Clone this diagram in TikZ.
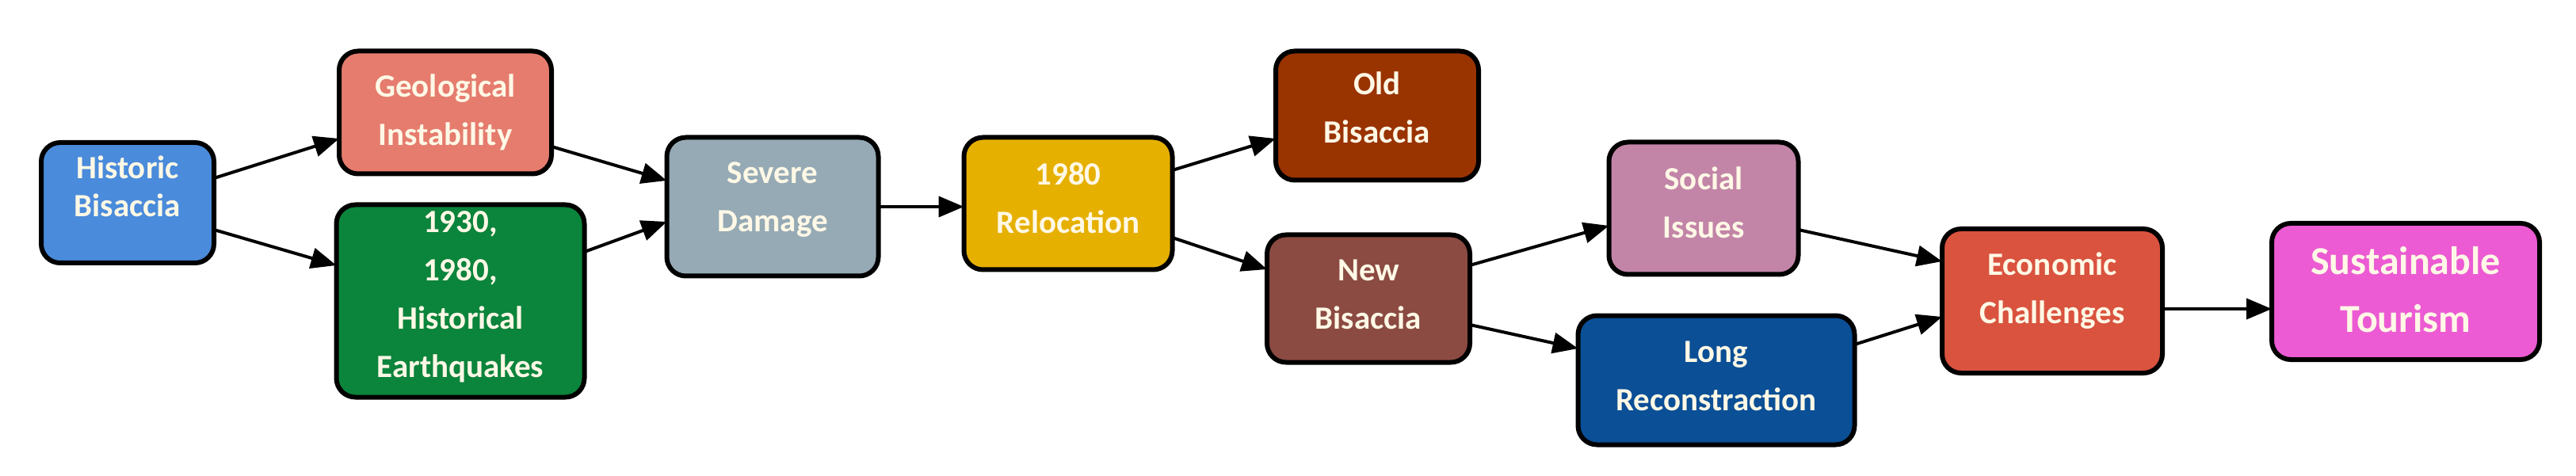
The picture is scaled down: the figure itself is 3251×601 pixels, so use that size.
\documentclass[tikz,border=0pt]{standalone}
\usepackage{fontspec}
\setmainfont{Carlito}
\usetikzlibrary{arrows.meta}
\definecolor{cH}{HTML}{4A8BDB}\definecolor{cG}{HTML}{E57C6E}\definecolor{cE}{HTML}{0B843C}
\definecolor{cS}{HTML}{95AAB5}\definecolor{cR}{HTML}{E6B000}\definecolor{cO}{HTML}{993300}
\definecolor{cN}{HTML}{8B4B42}\definecolor{cSo}{HTML}{C285A8}\definecolor{cL}{HTML}{0B4F96}
\definecolor{cEc}{HTML}{D9533F}\definecolor{cSu}{HTML}{EC5BD3}\definecolor{txt}{HTML}{FFF8E6}
\begin{document}
\begin{tikzpicture}[x=1pt,y=-1pt,
  box/.style={draw=black,line width=6pt,rounded corners=24pt,inner sep=0pt,outer sep=0pt},
  lbl/.style={text=txt,align=center,font=\bfseries\fontsize{41}{61}\selectfont,inner sep=0pt},
  big/.style={text=txt,align=center,font=\bfseries\fontsize{50}{73}\selectfont,inner sep=0pt},
  arr/.style={line width=4pt,-{Triangle[length=32pt,width=26pt]}}]
\useasboundingbox[fill=white] (0,0) rectangle (3251,601);
\node[box,fill=cH,minimum width=218pt,minimum height=152pt] (h) at (161,256) {};
\node[box,fill=cG,minimum width=268pt,minimum height=155pt] (g) at (562,142) {};
\node[box,fill=cE,minimum width=313pt,minimum height=243pt] (e) at (581,380) {};
\node[box,fill=cS,minimum width=267pt,minimum height=175pt] (s) at (975,261) {};
\node[box,fill=cR,minimum width=263pt,minimum height=167pt] (r) at (1348,257) {};
\node[box,fill=cO,minimum width=256pt,minimum height=163pt] (o) at (1738,146) {};
\node[box,fill=cN,minimum width=256pt,minimum height=161pt] (n) at (1727,377) {};
\node[box,fill=cSo,minimum width=239pt,minimum height=167pt] (so) at (2150,263) {};
\node[box,fill=cL,minimum width=349pt,minimum height=163pt] (l) at (2166,480) {};
\node[box,fill=cEc,minimum width=278pt,minimum height=182pt] (ec) at (2590,380) {};
\node[box,fill=cSu,minimum width=338pt,minimum height=172pt] (su) at (3036,368) {};
\node[lbl,font=\bfseries\fontsize{41}{48}\selectfont] (th) at (161,235) {Historic\\Bisaccia};
\node[lbl] (tg) at (562,142) {Geological\\Instability};
\node[lbl] (te) at (581,375) {1930,\\1980,\\Historical\\Earthquakes};
\node[lbl] (ts) at (975,252) {Severe\\Damage};
\node[lbl] (tr) at (1348,250) {1980\\Relocation};
\node[lbl] (to) at (1738,136) {Old\\Bisaccia};
\node[lbl] (tn) at (1727,372) {New\\Bisaccia};
\node[lbl] (tso) at (2150,256) {Social\\Issues};
\node[lbl] (tl) at (2166,475) {Long\\Reconstraction};
\node[lbl] (tec) at (2590,367) {Economic\\Challenges};
\node[big] (tsu) at (3036,366) {Sustainable\\Tourism};
\draw[arr] ([yshift=31pt]h.east) -- ([yshift=-33pt]g.west);
\draw[arr] ([yshift=-34pt]h.east) -- ([yshift=45pt]e.west);
\draw[arr] ([yshift=-43pt]g.east) -- ([yshift=33pt]s.west);
\draw[arr] ([yshift=62pt]e.east) -- ([yshift=-19pt]s.west);
\draw[arr] (s.east) -- (s.east -| r.west);
\draw[arr] ([yshift=42pt]r.east) -- ([yshift=-29pt]o.west);
\draw[arr] ([yshift=-43pt]r.east) -- ([yshift=37pt]n.west);
\draw[arr] ([yshift=42pt]n.east) -- ([yshift=-22pt]so.west);
\draw[arr] ([yshift=-33pt]n.east) -- ([yshift=40pt]l.west);
\draw[arr] ([yshift=-27pt]so.east) -- ([yshift=50pt]ec.west);
\draw[arr] ([yshift=45pt]l.east) -- ([yshift=-20pt]ec.west);
\draw[arr] ([yshift=-10pt]ec.east) -- ([yshift=-10pt]ec.east -| su.west);
\end{tikzpicture}
\end{document}
